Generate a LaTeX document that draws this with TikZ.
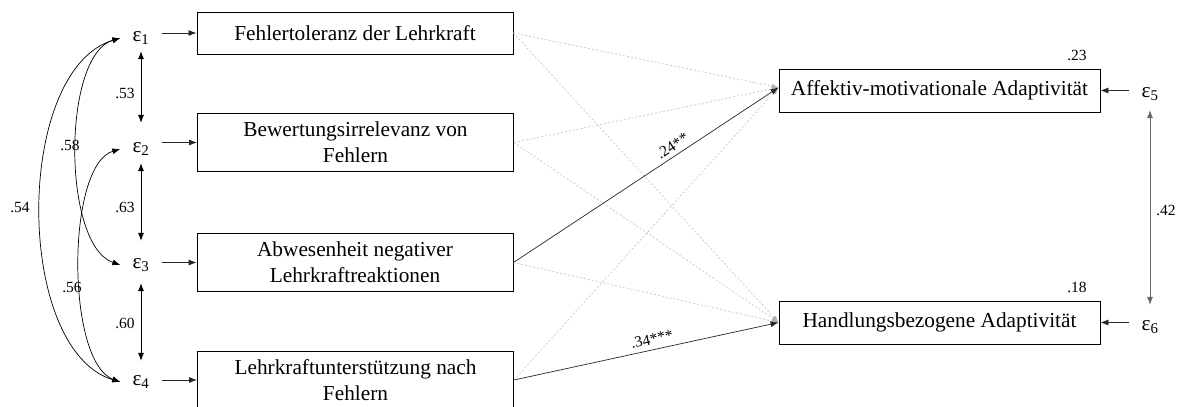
\documentclass[tikz,border=0pt]{standalone}
\usepackage{fontspec}
\setmainfont{Liberation Serif}
\usetikzlibrary{arrows.meta,calc}

\begin{document}
\begin{tikzpicture}[x=1pt,y=-1pt,
  box/.style={draw, line width=0.9pt, align=center, inner sep=0pt,
    font=\fontsize{21.3}{26}\selectfont},
  leftbox/.style={box, minimum width=316pt, minimum height=58pt},
  rightbox/.style={box, minimum width=321pt, minimum height=43pt},
  err/.style={inner xsep=12pt, inner ysep=2pt, text height=10pt, text depth=4pt,
    font=\fontsize{21.3}{26}\selectfont},
  coef/.style={font=\fontsize{15.5}{17}\selectfont, inner sep=1pt},
  path/.style={line width=0.7pt, draw=black!85, -{Latex[length=8pt,width=6pt]}},
  cov/.style={line width=0.7pt, {Latex[length=8pt,width=6pt]}-{Latex[length=8pt,width=6pt]}},
  nspath/.style={draw=black!22, line width=0.7pt, dash pattern=on 2pt off 2pt,
    -{Latex[length=7pt,width=5pt,black!30]}},
]
\useasboundingbox (0,0) rectangle (1184,407);
\clip (0,0) rectangle (1184,407);

% predictor boxes
\node[box, minimum width=316pt, minimum height=42pt] (b1) at (355,33) {Fehlertoleranz der Lehrkraft};
\node[leftbox] (b2) at (355.5,142.5) {Bewertungsirrelevanz von\\Fehlern};
\node[leftbox] (b3) at (355,262.5) {Abwesenheit negativer\\Lehrkraftreaktionen};
\node[leftbox] (b4) at (355.5,380) {Lehrkraftunterstützung nach\\Fehlern};

% outcome boxes
\node[rightbox] (A) at (939.5,90.5) {Affektiv-motivationale Adaptivität};
\node[rightbox] (H) at (939.5,322.5) {Handlungsbezogene Adaptivität};

% residual terms
\node[err] (e1) at (141,38) {ε\textsubscript{1}};
\node[err] (e2) at (141,149) {ε\textsubscript{2}};
\node[err] (e3) at (141,265) {ε\textsubscript{3}};
\node[err] (e4) at (141,382) {ε\textsubscript{4}};
\node[err] (e5) at (1150,94) {ε\textsubscript{5}};
\node[err] (e6) at (1150,327) {ε\textsubscript{6}};

% residuals to indicators
\foreach \e/\b in {e1/b1,e2/b2,e3/b3,e4/b4}
  \draw[path] (\e.east |- \b.west) -- (\b.west);
\draw[path] (e5.west |- A.east) -- (A.east);
\draw[path] (e6.west |- H.east) -- (H.east);

% residual covariances between neighbours
\draw[cov, shorten <=4pt, shorten >=17pt] (e1.south) -- node[coef, left=5pt] {.53} (e2.north);
\draw[cov, shorten <=5pt, shorten >=15pt] (e2.south) -- node[coef, left=5pt] {.63} (e3.north);
\draw[cov, shorten <=9pt, shorten >=12pt] (e3.south) -- node[coef, left=5pt] {.60} (e4.north);
\draw[cov, draw=black!60, shorten <=7pt, shorten >=13pt] (e5.south) -- node[coef, right=5pt] {.42} (e6.north);

% curved residual covariances
\draw[cov] (e1.west) .. controls (14,70) and (14,350) .. (e4.west);
\draw[cov] (e1.west) .. controls (62,55) and (62,245) .. (e3.west);
\draw[cov] (e2.west) .. controls (66,165) and (66,362) .. (e4.west);
\node[coef] (c54) at (20,208) {.54};
\node[coef] (c58) at (70,145) {.58};
\node[coef] (c56) at (72,287) {.56};

% explained variance
\node[coef] (r2a) at (1077,55) {.23};
\node[coef] (r2h) at (1077,287) {.18};

% non-significant paths
\coordinate (Ain) at ([yshift=3pt]A.west);
\coordinate (Hin) at (H.west);
\foreach \b in {b1,b2,b4}
  \draw[nspath] (\b.east) -- (Ain);
\foreach \b in {b1,b2,b3}
  \draw[nspath] (\b.east) -- (Hin);

% significant paths
\draw[path] (b3.east) -- node[coef, sloped, above=3pt, pos=0.62] {.24**} (Ain);
\draw[path] (b4.east) -- node[coef, sloped, above=4pt, pos=0.53] {.34***} (Hin);
\end{tikzpicture}
\end{document}
